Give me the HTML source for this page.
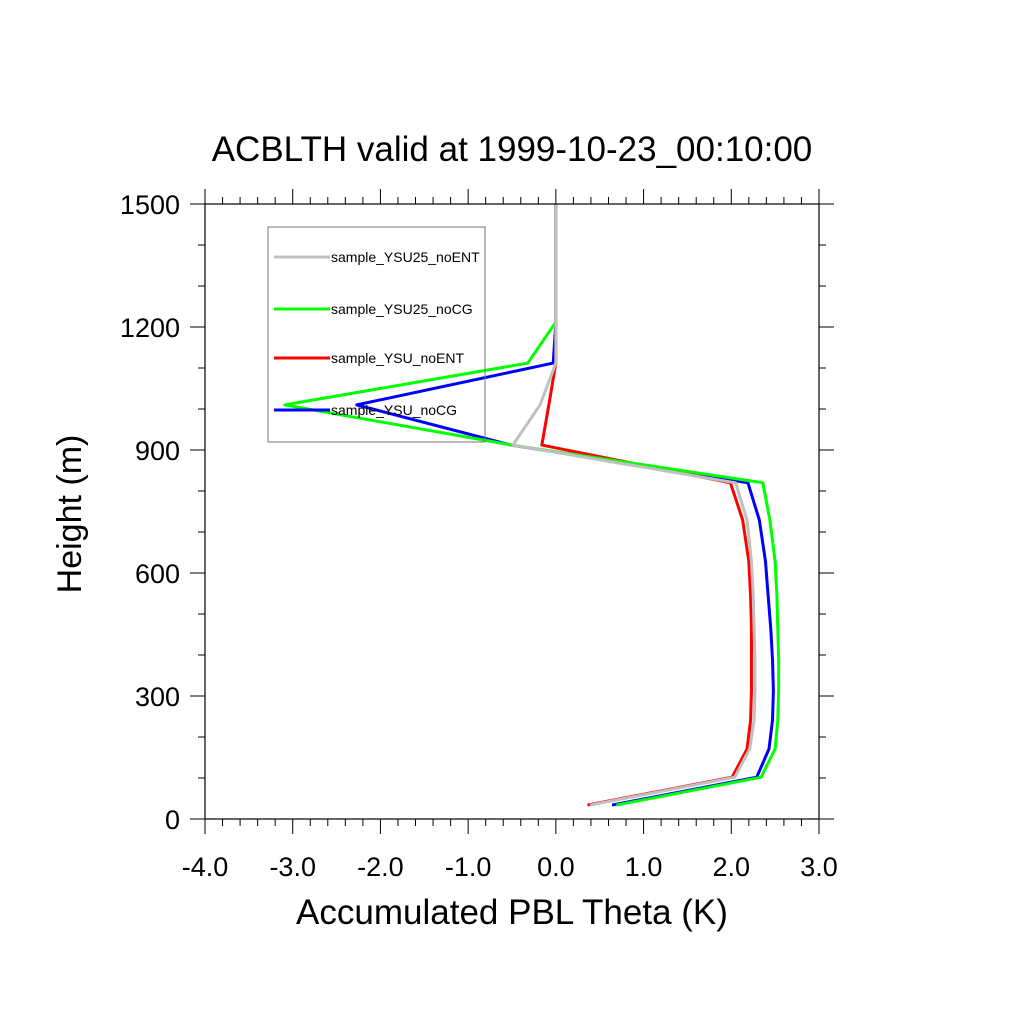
<!DOCTYPE html>
<html><head><meta charset="utf-8"><style>body{margin:0;background:#fff}svg text{font-family:"Liberation Sans",sans-serif;fill:#000}</style></head>
<body>
<svg id="chart" width="1024" height="1024" xmlns="http://www.w3.org/2000/svg">
<rect width="1024" height="1024" fill="#fff"/>
<text x="512" y="161" font-size="35" text-anchor="middle">ACBLTH valid at 1999-10-23_00:10:00</text>
<text x="512" y="924" font-size="35" text-anchor="middle">Accumulated PBL Theta (K)</text>
<text x="0" y="0" font-size="34" text-anchor="middle" transform="translate(81,514) rotate(-90)">Height (m)</text>
<defs><clipPath id="clip"><rect x="205" y="204" width="614" height="615"/></clipPath></defs>
<g id="axes"></g>
<g id="series" clip-path="url(#clip)"></g>
<rect x="205" y="204" width="614" height="615" fill="none" stroke="#000" stroke-width="1.2"/>
<g id="legend"></g>
</svg>
<script>
const heights = [34,102,171,241,313,388,465,545,628,729,820,912,1010,1112,1212,1320,1430,1540];
const seriesNames = ["sample_YSU25_noENT","sample_YSU25_noCG","sample_YSU_noENT","sample_YSU_noCG"];
const grayVals  = [0.39,2.04,2.21,2.26,2.27,2.27,2.26,2.25,2.23,2.18,2.05,-0.49,-0.18,0.0,0.0,0.0,0.0,0.0];
const greenVals = [0.69,2.34,2.50,2.53,2.54,2.54,2.53,2.52,2.50,2.44,2.36,-0.50,-3.09,-0.32,0.0,0.0,0.0,0.0];
const redVals   = [0.36,2.01,2.18,2.22,2.23,2.23,2.23,2.22,2.20,2.13,1.99,-0.16,-0.08,0.0,0.0,0.0,0.0,0.0];
const blueVals  = [0.64,2.29,2.43,2.47,2.48,2.47,2.45,2.42,2.39,2.32,2.19,-0.51,-2.27,-0.03,0.0,0.0,0.0,0.0];
const xTicks = [-4,-3,-2,-1,0,1,2,3];
const xTickLabels = ["-4.0","-3.0","-2.0","-1.0","0.0","1.0","2.0","3.0"];
const yTicks = [0,300,600,900,1200,1500];
const yTickLabels = ["0","300","600","900","1200","1500"];
const X = v => 205 + (v + 4) * (614 / 7);
const Y = h => 819 - h * (615 / 1500);
const NS = "http://www.w3.org/2000/svg";
function mk(tag, attrs, parent){const e=document.createElementNS(NS,tag);for(const k in attrs)e.setAttribute(k,attrs[k]);parent.appendChild(e);return e;}
const ax=document.getElementById('axes');
for(let v=-4;v<=3.001;v+=0.2){const major=Math.abs(v-Math.round(v))<1e-6;const len=major?15:7;const x=X(v);
 const t1=mk('line',{x1:x,x2:x,y1:819,y2:819+len,stroke:'#000','stroke-width':1},ax);
 
 
 const t2=mk('line',{x1:x,x2:x,y1:204,y2:204-len,stroke:'#000','stroke-width':1},ax);
 
 }
for(let h=0;h<=1500;h+=100){const major=h%300===0;const len=major?15:7;const y=Y(h);
 const t1=mk('line',{x1:205-len,x2:205,y1:y,y2:y,stroke:'#000','stroke-width':1},ax);
 
 
 const t2=mk('line',{x1:819,x2:819+len,y1:y,y2:y,stroke:'#000','stroke-width':1},ax);
 
 }
xTicks.forEach((v,i)=>{const t=mk('text',{x:X(v),y:876,'font-size':27,'text-anchor':'middle'},ax);t.textContent=xTickLabels[i];
 
 });
yTicks.forEach((h,i)=>{const t=mk('text',{x:180,y:Y(h)+10,'font-size':27,'text-anchor':'end'},ax);t.textContent=yTickLabels[i];
 
 });
const sg=document.getElementById('series');
const names={'#c0c0c0':'series-ysu25-noent','#00ff00':'series-ysu25-nocg','#ff0000':'series-ysu-noent','#0000ff':'series-ysu-nocg'};
[[blueVals,'#0000ff'],[redVals,'#ff0000'],[greenVals,'#00ff00'],[grayVals,'#c0c0c0']].forEach(([vals,c])=>{
 const p=mk('polyline',{points:vals.map((v,i)=>X(v)+','+Y(heights[i])).join(' '),fill:'none',stroke:c,'stroke-width':3,'stroke-linejoin':'round'},sg);
 
 });
const lg=document.getElementById('legend');
const box=mk('rect',{x:268,y:227,width:217,height:215,fill:'none',stroke:'#777','stroke-width':1},lg);


const legColors=['#c0c0c0','#00ff00','#ff0000','#0000ff'];
const legY=[257,309,358,410];
seriesNames.forEach((n,i)=>{
 const l=mk('line',{x1:274,x2:330,y1:legY[i],y2:legY[i],stroke:legColors[i],'stroke-width':3},lg);
 
 
 const t=mk('text',{x:331,y:legY[i]+5,'font-size':14},lg);t.textContent=n;
 
 });
</script>
</body></html>
